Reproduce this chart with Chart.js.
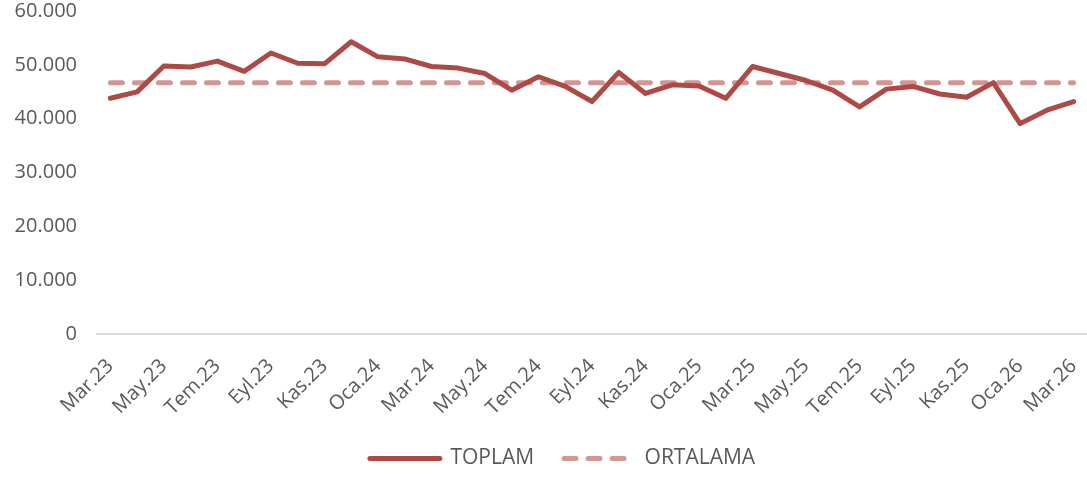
<!DOCTYPE html>
<html>
<head>
<meta charset="utf-8">
<script src="https://cdn.jsdelivr.net/npm/chart.js@4/dist/chart.umd.min.js"></script>
<style>
    html, body { margin: 0; padding: 0; background: #fff; }
    #wrap { width: 1087px; height: 479px; }
</style>
</head>
<body>
<div id="wrap"><canvas id="chart-toplam"></canvas></div>
<script>
var months = ["Mar.23","Nis.23","May.23","Haz.23","Tem.23","Ağu.23","Eyl.23","Eki.23","Kas.23","Ara.23",
    "Oca.24","Şub.24","Mar.24","Nis.24","May.24","Haz.24","Tem.24","Ağu.24","Eyl.24","Eki.24","Kas.24","Ara.24",
    "Oca.25","Şub.25","Mar.25","Nis.25","May.25","Haz.25","Tem.25","Ağu.25","Eyl.25","Eki.25","Kas.25","Ara.25",
    "Oca.26","Şub.26","Mar.26"];

var toplam = [43800, 45000, 49800, 49600, 50700, 48800, 52200, 50300, 50200, 54300,
    51500, 51100, 49700, 49400, 48400, 45300, 47800, 46000, 43200, 48600, 44700, 46300,
    46100, 43800, 49700, 48400, 47100, 45300, 42200, 45500, 46000, 44600, 44000, 46700,
    39100, 41600, 43200];

var ortalama = 46700;

var yTicks = [0, 10000, 20000, 30000, 40000, 50000, 60000];

var textColor = '#595959';
var fontName = "'Open Sans', sans-serif";

function formatNumber(v) {
    return v.toString().replace(/\B(?=(\d{3})+(?!\d))/g, '.');
}

var data = {
    labels: months,
    datasets: [
        {
            label: 'TOPLAM',
            data: toplam,
            borderColor: '#AD4A46',
            backgroundColor: '#AD4A46',
            borderWidth: 5,
            borderCapStyle: 'round',
            borderJoinStyle: 'round',
            pointRadius: 0,
            tension: 0
        },
        {
            label: 'ORTALAMA',
            data: months.map(function() { return ortalama; }),
            borderColor: '#D59593',
            backgroundColor: '#D59593',
            borderWidth: 5,
            borderDash: [12, 12],
            borderCapStyle: 'round',
            pointRadius: 0,
            tension: 0
        }
    ]
};

// legend with point style drops the dash, so copy it back from the datasets
function legendLabels(chart) {
    var items = Chart.defaults.plugins.legend.labels.generateLabels(chart);
    items.forEach(function(item) {
        var ds = chart.data.datasets[item.datasetIndex];
        item.lineDash = ds.borderDash || [];
        item.lineWidth = ds.borderWidth;
        item.lineCap = 'round';
        item.strokeStyle = ds.borderColor;
    });
    return items;
}

// the original legend sits a bit right of the page centre
var legendShift = {
    id: 'legendShift',
    afterLayout: function(chart) {
        chart.legend.left += 15;
        chart.legend.right += 15;
    }
};

var options = {
    responsive: true,
    maintainAspectRatio: false,
    animation: false,
    layout: { padding: { left: 8, right: 0, top: 11, bottom: 0 } },
    plugins: {
        tooltip: { enabled: false },
        legend: {
            position: 'bottom',
            labels: {
                usePointStyle: true,
                pointStyle: 'line',
                pointStyleWidth: 70,
                padding: 30,
                color: textColor,
                font: { family: fontName, size: 21 },
                generateLabels: legendLabels
            }
        }
    },
    scales: {
        x: {
            offset: true,
            grid: { display: false, drawTicks: false },
            border: { display: true, color: '#D9D9D9', width: 2 },
            afterFit: function(scale) {
                // let the rotated labels run past the plot edges like the original
                scale.paddingLeft = 0;
                scale.paddingRight = 0;
                scale.height = scale.height - 22;
            },
            ticks: {
                autoSkip: false,
                minRotation: 45,
                maxRotation: 45,
                padding: 20,
                color: textColor,
                font: { family: fontName, size: 20 },
                callback: function(value, index) {
                    return index % 2 == 0 ? months[index] : '';
                }
            }
        },
        y: {
            min: 0,
            max: 60000,
            afterBuildTicks: function(axis) {
                axis.ticks = yTicks.map(function(v) { return { value: v }; });
            },
            afterFit: function(scale) {
                scale.paddingTop = 0;
                scale.width = 89;
            },
            grid: { display: false, drawTicks: false },
            border: { display: false },
            ticks: {
                padding: 20,
                color: textColor,
                font: { family: fontName, size: 20 },
                callback: function(value) { return formatNumber(value); }
            }
        }
    }
};

var ctx = document.getElementById('chart-toplam').getContext('2d');
var toplamChart = new Chart(ctx, {
    type: 'line',
    data: data,
    options: options,
    plugins: [legendShift]
});
</script>
</body>
</html>
